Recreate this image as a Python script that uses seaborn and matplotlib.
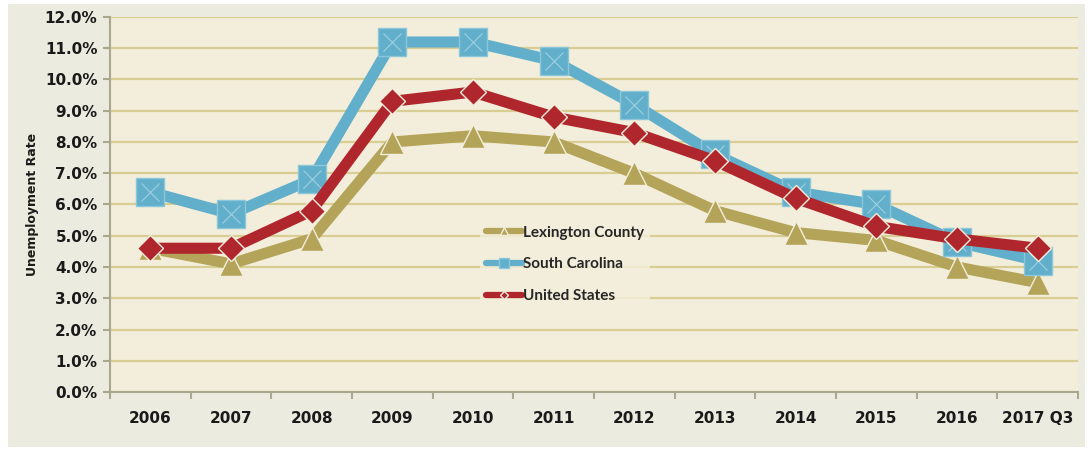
import matplotlib
matplotlib.use("Agg")
import matplotlib.pyplot as plt
import seaborn as sns
import pandas as pd
import numpy as np
from matplotlib.patches import Rectangle
from matplotlib.ticker import FuncFormatter, FixedLocator

years = ["2006", "2007", "2008", "2009", "2010", "2011", "2012", "2013", "2014", "2015", "2016", "2017 Q3"]
lexington = [4.6, 4.1, 4.9, 8.0, 8.2, 8.0, 7.0, 5.8, 5.1, 4.85, 4.0, 3.5]
south_carolina = [6.4, 5.7, 6.8, 11.2, 11.2, 10.6, 9.2, 7.6, 6.4, 6.0, 4.8, 4.2]
united_states = [4.6, 4.6, 5.8, 9.3, 9.6, 8.8, 8.3, 7.4, 6.2, 5.3, 4.9, 4.6]
series_names = ["Lexington County", "South Carolina", "United States"]

df = pd.DataFrame({
    "year": years * 3,
    "x": list(range(len(years))) * 3,
    "rate": lexington + south_carolina + united_states,
    "series": [series_names[0]] * 12 + [series_names[1]] * 12 + [series_names[2]] * 12,
})

sns.set_theme(style="white")
plt.rcParams['font.family'] = ['DejaVu Sans']

fig = plt.figure(figsize=(10.89, 4.5), dpi=100)
fig.patch.set_facecolor("white")
fig.patches.append(Rectangle((8/1089, 3/450), 1077/1089, 443/450, transform=fig.transFigure,
                             facecolor="#ecebe0", edgecolor="none", zorder=-10))
ax = fig.add_axes([110/1089, 1 - 392/450, 968/1089, 375/450])
ax.set_zorder(1)
ax.set_facecolor("#f3eedb")

styles = {
    "Lexington County": dict(color="#b4a459", marker="^", ms=17, mec="#f3eedb", mew=1.0, z=3),
    "South Carolina": dict(color="#62afcb", marker="s", ms=20, mec="#8cc6da", mew=1.0, z=4),
    "United States": dict(color="#b0262d", marker="D", ms=13, mec="#f3eedb", mew=1.0, z=5),
}

for name in series_names:
    st = styles[name]
    sub = df[df["series"] == name]
    sns.lineplot(data=sub, x="x", y="rate", ax=ax, color=st["color"], linewidth=8,
                 marker=st["marker"], markersize=st["ms"], markeredgecolor=st["mec"],
                 markeredgewidth=st["mew"], label=name, zorder=st["z"])
    if name == "South Carolina":
        ax.plot(sub["x"], sub["rate"], linestyle="none", marker="x", markersize=13,
                markeredgecolor="#9fd0e0", markeredgewidth=0.8, zorder=4.5)

ax.set_xlim(-0.5, 11.5)
ax.set_ylim(0, 12)
ax.set_yticks(np.arange(0, 12.1, 1))
ax.yaxis.set_major_formatter(FuncFormatter(lambda v, p: f"{v:.1f}%"))
ax.set_xticks(range(len(years)))
ax.set_xticklabels(years)
ax.xaxis.set_minor_locator(FixedLocator(np.arange(-0.5, 11.6, 1)))
ax.tick_params(axis="x", which="major", length=0, pad=14, labelsize=11)
ax.tick_params(axis="x", which="minor", length=5, color="#aaa78f", width=1.5, direction="out", bottom=True)
ax.tick_params(axis="y", which="major", length=5, color="#aaa78f", width=1.5, labelsize=11, pad=4, left=True)
for lab in ax.get_xticklabels() + ax.get_yticklabels():
    lab.set_fontweight("bold")
    lab.set_color("#1a1a1a")

ax.grid(axis="y", color="#d8cd92", linewidth=1.6)
ax.set_axisbelow(True)
for s in ["top", "right"]:
    ax.spines[s].set_visible(False)
ax.spines["left"].set_color("#aaa78f")
ax.spines["left"].set_linewidth(1.5)
ax.spines["bottom"].set_color("#aaa78f")
ax.spines["bottom"].set_linewidth(1.5)

ax.set_xlabel("")
ax.set_ylabel("Unemployment Rate", fontsize=9, fontweight="bold", color="#1a1a1a", labelpad=4)

handles, labels = ax.get_legend_handles_labels()
leg = ax.legend(handles[:3], labels[:3], loc="upper left", bbox_to_anchor=(362/968, (392-212)/375),
                frameon=True, facecolor="#f3eedb", edgecolor="none", fancybox=False,
                handlelength=2.4, markerscale=0.35, labelspacing=1.15, handletextpad=0.05,
                prop=dict(family="Lato", weight="bold", size=11))
for h in leg.get_lines():
    h.set_linewidth(4.5)

fig.savefig("out.png", dpi=100, facecolor=fig.get_facecolor())
